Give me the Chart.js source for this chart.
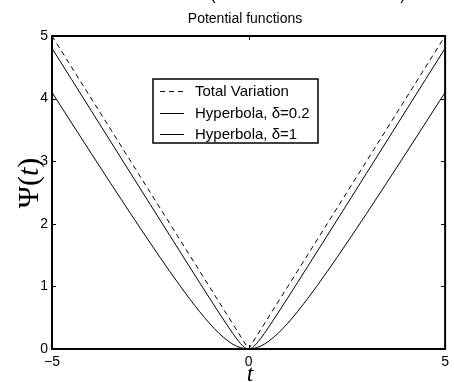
<!DOCTYPE html>
<html>
<head>
<meta charset="utf-8">
<script src="https://cdn.jsdelivr.net/npm/chart.js@4/dist/chart.umd.min.js"></script>
<style>
  html, body { margin: 0; padding: 0; background: #fff; }
  #wrap { width: 454px; height: 382px; }
</style>
</head>
<body>
<div id="wrap"><canvas id="chart" width="454" height="382"></canvas></div>
<script>
// sample points of t and the potential values psi(t)
const tvT   = [-5, 0, 5];
const tvPsi = [5, 0, 5];

const hypT = [-5, -4.5, -4, -3.5, -3, -2.5, -2, -1.5, -1.25, -1, -0.75, -0.5, -0.4, -0.3, -0.2, -0.1, 0,
              0.1, 0.2, 0.3, 0.4, 0.5, 0.75, 1, 1.25, 1.5, 2, 2.5, 3, 3.5, 4, 4.5, 5];
const hypPsi02 = [4.804, 4.304, 3.805, 3.306, 2.807, 2.308, 1.810, 1.313, 1.066, 0.820, 0.576, 0.339, 0.247, 0.161, 0.083, 0.024, 0,
                  0.024, 0.083, 0.161, 0.247, 0.339, 0.576, 0.820, 1.066, 1.313, 1.810, 2.308, 2.807, 3.306, 3.805, 4.304, 4.804];
const hypPsi1  = [4.099, 3.610, 3.123, 2.640, 2.162, 1.693, 1.236, 0.803, 0.601, 0.414, 0.250, 0.118, 0.077, 0.044, 0.020, 0.005, 0,
                  0.005, 0.020, 0.044, 0.077, 0.118, 0.250, 0.414, 0.601, 0.803, 1.236, 1.693, 2.162, 2.640, 3.123, 3.610, 4.099];

const seriesNames = ['Total Variation', 'Hyperbola, \u03b4=0.2', 'Hyperbola, \u03b4=1'];
const xTicks = [-5, 0, 5];
const yTicks = [0, 1, 2, 3, 4, 5];
const titleText = 'Potential functions';

const SANS = 'Arial, "Liberation Sans", sans-serif';
const SERIF = '"Liberation Serif", "Times New Roman", serif';

const pts = (xs, ys) => xs.map((x, i) => ({ x, y: ys[i] }));

// box, inward ticks, legend and labels drawn on top of the chart
const framePlugin = {
  id: 'frame',
  afterDraw(chart) {
    const ctx = chart.ctx;
    const a = chart.chartArea;
    const sx = chart.scales.x, sy = chart.scales.y;
    ctx.save();

    // cut-off heading at the very top
    ctx.fillStyle = '#000';
    ctx.font = '16px ' + SANS;
    ctx.textAlign = 'center';
    ctx.textBaseline = 'alphabetic';
    ctx.fillText('(', 213, 0);
    ctx.fillText(')', 403, 0);

    // title
    ctx.font = '14px ' + SANS;
    ctx.textBaseline = 'middle';
    ctx.fillText(titleText, 245, 19);

    // inward tick marks
    ctx.strokeStyle = '#000';
    ctx.lineWidth = 1;
    const tl = 4;
    ctx.beginPath();
    xTicks.forEach(v => {
      const px = Math.round(sx.getPixelForValue(v)) + 0.5;
      ctx.moveTo(px, a.bottom); ctx.lineTo(px, a.bottom - tl);
      ctx.moveTo(px, a.top); ctx.lineTo(px, a.top + tl);
    });
    yTicks.forEach(v => {
      const py = Math.round(sy.getPixelForValue(v)) + 0.5;
      ctx.moveTo(a.left, py); ctx.lineTo(a.left + tl, py);
      ctx.moveTo(a.right, py); ctx.lineTo(a.right - tl, py);
    });
    ctx.stroke();

    // axes box
    ctx.lineWidth = 2;
    ctx.strokeRect(a.left, a.top, a.right - a.left, a.bottom - a.top);

    // legend
    const lx = 153, ly = 79, lw = 165, lh = 64;
    ctx.fillStyle = '#fff';
    ctx.fillRect(lx, ly, lw, lh);
    ctx.lineWidth = 1.5;
    ctx.strokeRect(lx, ly, lw, lh);
    const rows = [91, 113, 134];
    ctx.font = '15px ' + SANS;
    ctx.textAlign = 'left';
    ctx.textBaseline = 'middle';
    chart.data.datasets.forEach((ds, i) => {
      const y = rows[i] + 0.5;
      ctx.lineWidth = 1;
      ctx.setLineDash(ds.borderDash || []);
      ctx.beginPath();
      ctx.moveTo(160, y); ctx.lineTo(184, y);
      ctx.stroke();
      ctx.setLineDash([]);
      ctx.fillStyle = '#000';
      ctx.fillText(ds.label, 195, rows[i] + 1);
    });

    // x label
    ctx.font = 'italic 24px ' + SERIF;
    ctx.textAlign = 'center';
    ctx.textBaseline = 'alphabetic';
    ctx.fillText('t', 250, 381);

    // y label  psi(t)
    ctx.translate(38, 183);
    ctx.rotate(-Math.PI / 2);
    const up = '30px ' + SERIF, it = 'italic 30px ' + SERIF;
    const parts = [['\u03a8(', up], ['t', it], [')', up]];
    let total = 0;
    parts.forEach(p => { ctx.font = p[1]; total += ctx.measureText(p[0]).width; });
    let cx = -total / 2;
    ctx.textAlign = 'left';
    parts.forEach(p => {
      ctx.font = p[1];
      ctx.fillText(p[0], cx, 0);
      cx += ctx.measureText(p[0]).width;
    });
    ctx.restore();
  }
};

new Chart(document.getElementById('chart'), {
  type: 'line',
  data: {
    datasets: [
      {
        label: seriesNames[0],
        data: pts(tvT, tvPsi),
        borderColor: '#000',
        borderWidth: 1,
        borderDash: [5, 4],
        pointRadius: 0,
        fill: false
      },
      {
        label: seriesNames[1],
        data: pts(hypT, hypPsi02),
        borderColor: '#000',
        borderWidth: 1,
        pointRadius: 0,
        cubicInterpolationMode: 'monotone',
        fill: false
      },
      {
        label: seriesNames[2],
        data: pts(hypT, hypPsi1),
        borderColor: '#000',
        borderWidth: 1,
        pointRadius: 0,
        cubicInterpolationMode: 'monotone',
        fill: false
      }
    ]
  },
  options: {
    responsive: false,
    animation: false,
    layout: { padding: { top: 36, right: 6, left: 0, bottom: 0 } },
    plugins: {
      legend: { display: false },
      tooltip: { enabled: false },
      title: { display: false }
    },
    scales: {
      x: {
        type: 'linear',
        min: -5,
        max: 5,
        afterFit: s => { s.height = 33; },
        afterBuildTicks: s => { s.ticks = xTicks.map(v => ({ value: v })); },
        grid: { display: false, drawTicks: false },
        border: { display: false },
        ticks: {
          padding: 5,
          color: '#000',
          font: { family: SANS, size: 14 },
          maxRotation: 0,
          callback: v => (v < 0 ? '\u2212' + Math.abs(v) : String(v))
        }
      },
      y: {
        type: 'linear',
        min: 0,
        max: 5,
        afterFit: s => { s.width = 52; },
        afterBuildTicks: s => { s.ticks = yTicks.map(v => ({ value: v })); },
        grid: { display: false, drawTicks: false },
        border: { display: false },
        ticks: {
          padding: 4,
          color: '#000',
          font: { family: SANS, size: 14 }
        }
      }
    }
  },
  plugins: [framePlugin]
});
</script>
</body>
</html>
